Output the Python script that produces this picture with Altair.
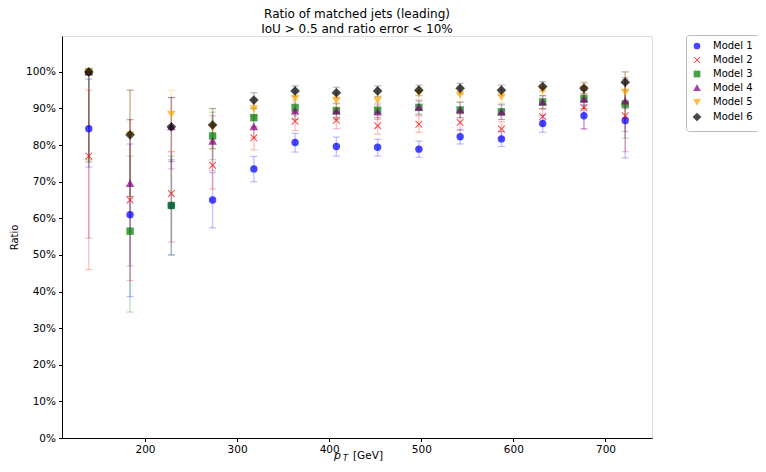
import altair as alt
import pandas as pd

# ---- data ----
pt = [139.0, 183.8, 228.6, 273.4, 318.2, 363.0, 407.8, 452.6, 497.4, 542.2, 587.0, 631.8, 676.6, 721.4]
models = ["Model 1", "Model 2", "Model 3", "Model 4", "Model 5", "Model 6"]

m1_val = [84.5, 61.0, 63.5, 65.0, 73.5, 80.7, 79.6, 79.4, 78.9, 82.3, 81.7, 85.9, 88.0, 86.7]
m1_lo = [74.0, 38.6, 50.0, 57.4, 70.0, 78.1, 77.0, 77.0, 76.7, 80.3, 79.6, 83.5, 84.5, 76.5]
m1_hi = [98.0, 80.3, 76.0, 72.5, 76.9, 83.2, 82.2, 81.6, 81.1, 84.3, 83.7, 88.1, 91.0, 95.0]

m2_val = [77.0, 65.0, 66.8, 74.5, 82.0, 86.5, 86.8, 85.3, 85.7, 86.2, 84.4, 87.8, 90.2, 88.0]
m2_lo = [46.0, 43.0, 53.5, 68.0, 78.7, 84.0, 84.5, 83.0, 83.5, 84.0, 82.0, 85.5, 84.3, 78.2]
m2_hi = [95.0, 86.9, 78.2, 81.0, 85.0, 89.0, 89.0, 87.5, 88.0, 88.5, 86.4, 90.0, 94.0, 97.0]

m3_val = [100.0, 56.5, 63.5, 82.5, 87.5, 90.2, 89.4, 89.5, 90.3, 89.6, 89.1, 91.8, 92.7, 91.2]
m3_lo = [76.0, 34.4, 50.0, 76.0, 85.0, 88.0, 87.5, 87.5, 88.5, 87.5, 87.0, 90.0, 90.0, 81.9]
m3_hi = [100.0, 77.0, 77.0, 89.0, 90.0, 92.3, 91.3, 91.5, 92.0, 91.7, 91.2, 93.5, 95.0, 98.0]

m4_val = [100.0, 69.5, 85.0, 81.0, 85.0, 89.3, 89.3, 89.0, 90.3, 89.6, 89.0, 91.7, 92.5, 92.0]
m4_lo = [54.6, 47.0, 73.5, 73.0, 82.0, 87.0, 87.0, 87.0, 88.3, 87.5, 87.0, 89.8, 90.0, 83.7]
m4_hi = [100.0, 87.0, 93.0, 88.0, 88.0, 91.5, 91.5, 91.0, 92.2, 91.7, 91.0, 93.5, 95.0, 98.5]

m5_val = [100.0, 82.8, 88.5, 85.0, 90.0, 92.8, 92.3, 92.3, 94.2, 93.8, 93.2, 95.0, 95.3, 94.5]
m5_lo = [76.0, 66.0, 78.2, 79.0, 87.5, 91.0, 90.5, 90.5, 92.5, 92.0, 91.5, 93.5, 93.0, 86.0]
m5_hi = [100.0, 95.0, 95.0, 90.0, 92.5, 94.5, 94.0, 94.0, 95.8, 95.5, 95.0, 96.5, 97.3, 100.0]

m6_val = [100.0, 82.8, 85.0, 85.5, 92.3, 94.8, 94.3, 94.8, 95.0, 95.5, 95.0, 96.0, 95.5, 97.2]
m6_lo = [75.4, 66.0, 75.5, 79.0, 90.0, 93.3, 92.8, 93.3, 93.5, 94.0, 93.5, 94.7, 94.0, 90.0]
m6_hi = [100.0, 95.0, 93.0, 90.0, 94.3, 96.2, 95.8, 96.2, 96.4, 96.9, 96.4, 97.3, 97.0, 100.0]

x_ticks = [200, 300, 400, 500, 600, 700]
y_ticks = [0.0, 0.1, 0.2, 0.3, 0.4, 0.5, 0.6, 0.7, 0.8, 0.9, 1.0]

colors = ["#0000ff", "#ff0000", "#008000", "#800080", "#ffa500", "#000000"]
xpath = "M-1,-0.8L-0.8,-1L0,-0.2L0.8,-1L1,-0.8L0.2,0L1,0.8L0.8,1L0,0.2L-0.8,1L-1,0.8L-0.2,0Z"
tri_up = "M0,-1.1L1.15,0.9L-1.15,0.9Z"
tri_dn = "M0,1.1L1.15,-0.9L-1.15,-0.9Z"
diam = "M0,-1.3L1.3,0L0,1.3L-1.3,0Z"
shapes = ["circle", xpath, "square", tri_up, tri_dn, diam]

series = [(m1_val, m1_lo, m1_hi), (m2_val, m2_lo, m2_hi), (m3_val, m3_lo, m3_hi),
          (m4_val, m4_lo, m4_hi), (m5_val, m5_lo, m5_hi), (m6_val, m6_lo, m6_hi)]

rows = []
for name, (v, lo, hi) in zip(models, series):
    for i in range(len(pt)):
        rows.append({"pt": pt[i], "model": name, "ratio": v[i] / 100,
                     "lo": lo[i] / 100, "hi": hi[i] / 100})
df = pd.DataFrame(rows)

FONT = "DejaVu Sans"

xs = alt.Scale(domain=[109.9, 750.5], nice=False, zero=False)
ys = alt.Scale(domain=[0, 1.098], nice=False)
col_scale = alt.Scale(domain=models, range=colors)

X = alt.X("pt:Q", scale=xs, axis=alt.Axis(values=x_ticks, title=None, grid=False,
                                          labelFontSize=10.5, labelFont=FONT, labelColor="#000",
                                          domainColor="#000", tickColor="#000", tickSize=3.5,
                                          labelPadding=3))
Y = alt.Y("ratio:Q", scale=ys, axis=alt.Axis(values=y_ticks, format=".0%", title="Ratio",
                                              titleFont=FONT, titleFontSize=10, titleFontWeight="normal",
                                              titleColor="#000", titlePadding=6, grid=False,
                                              labelFontSize=10.5, labelFont=FONT, labelColor="#000",
                                              domainColor="#000", tickColor="#000", tickSize=3.5,
                                              labelPadding=3))

base = alt.Chart(df)

err_color = alt.Color("model:N", scale=col_scale, legend=None)

rules = base.mark_rule(strokeWidth=1.5, opacity=0.22).encode(
    x=X, y=alt.Y("lo:Q", scale=ys), y2="hi:Q", color=err_color)
cap_lo = base.mark_point(shape="stroke", filled=False, size=49, strokeWidth=1.2, opacity=0.25).encode(
    x=alt.X("pt:Q", scale=xs), y=alt.Y("lo:Q", scale=ys), color=err_color)
cap_hi = base.mark_point(shape="stroke", filled=False, size=49, strokeWidth=1.2, opacity=0.25).encode(
    x=alt.X("pt:Q", scale=xs), y=alt.Y("hi:Q", scale=ys), color=err_color)

leg = alt.Legend(title=None, orient="none", legendX=624, legendY=-1,
                 labelFont=FONT, labelFontSize=10, labelColor="#000",
                 symbolOpacity=0.72, rowPadding=0, symbolSize=45,
                 strokeColor="#bbbbbb", fillColor="#ffffff", padding=6,
                 cornerRadius=3, labelOffset=11)

points = base.mark_point(filled=True, opacity=0.72, size=55).encode(
    x=alt.X("pt:Q", scale=xs),
    y=Y,
    color=alt.Color("model:N", scale=col_scale, legend=leg),
    shape=alt.Shape("model:N", scale=alt.Scale(domain=models, range=shapes), legend=leg),
)

p_txt = alt.Chart(pd.DataFrame({"t": ["p"]})).mark_text(
    font=FONT, fontSize=11, fontStyle="italic", align="left", baseline="alphabetic", color="#000"
).encode(x=alt.value(272), y=alt.value(423), text="t:N")
t_txt = alt.Chart(pd.DataFrame({"t": ["T"]})).mark_text(
    font=FONT, fontSize=8, fontStyle="italic", align="left", baseline="alphabetic", color="#000"
).encode(x=alt.value(281), y=alt.value(425), text="t:N")
gev_txt = alt.Chart(pd.DataFrame({"t": ["[GeV]"]})).mark_text(
    font=FONT, fontSize=10.5, align="left", baseline="alphabetic", color="#000"
).encode(x=alt.value(291), y=alt.value(423), text="t:N")

chart = alt.layer(rules, cap_lo, cap_hi, points, p_txt, t_txt, gev_txt).resolve_scale(
    color="independent", shape="independent"
).properties(
    width=590, height=402,
    title=alt.Title(["Ratio of matched jets (leading)", "IoU > 0.5 and ratio error < 10%"],
                    font=FONT, fontSize=12, fontWeight="normal", color="#000",
                    anchor="middle", offset=-1, lineHeight=14.5),
    autosize=alt.AutoSizeParams(type="none"),
    padding={"left": 54, "top": 28, "right": 106, "bottom": 26},
).configure_view(stroke="#000", strokeWidth=1).configure(background="white")

chart.save("out.html", embed_options={"renderer": "svg", "actions": False})
